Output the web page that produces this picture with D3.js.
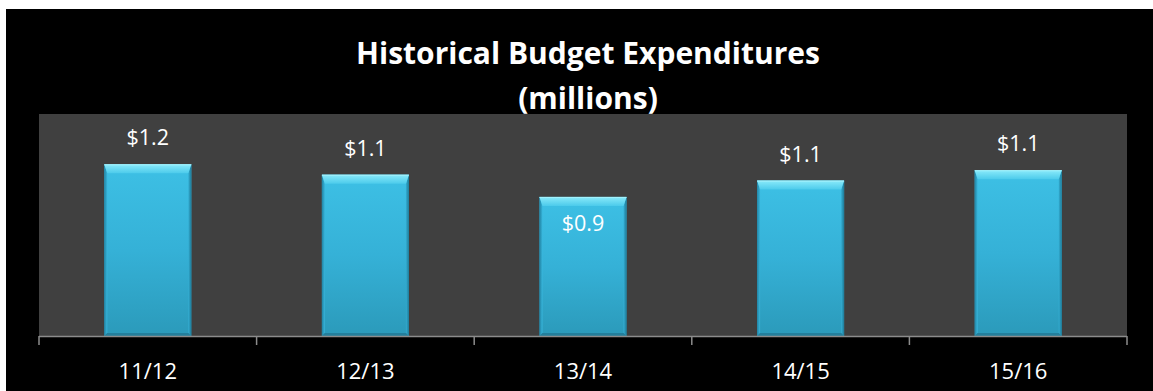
<!DOCTYPE html>
<html>
<head>
<meta charset="utf-8">
<script src="https://cdn.jsdelivr.net/npm/d3@7"></script>
<style>
  html, body { margin: 0; padding: 0; background: #ffffff; }
  svg { display: block; }
  text { font-family: "Open Sans", Lato, "Liberation Sans", sans-serif; }
</style>
</head>
<body>
<svg id="chart" width="1153" height="391"></svg>
<script>
// Fiscal years and spending (in millions of dollars)
const years = ["11/12", "12/13", "13/14", "14/15", "15/16"];
const spending = [1.16, 1.09, 0.94, 1.05, 1.12];
const titleLines = ["Historical Budget Expenditures", "(millions)"];

const W = 1153, H = 391;
const frame = { x: 6, y: 9 };
const plot = { left: 39, right: 1127, top: 114, bottom: 336 };

const svg = d3.select("#chart");
const defs = svg.append("defs");

// Gradients for the bevelled bars
function linGrad(id, x1, y1, x2, y2, stops) {
  const g = defs.append("linearGradient").attr("id", id)
    .attr("x1", x1).attr("y1", y1).attr("x2", x2).attr("y2", y2);
  stops.forEach(([o, c]) => g.append("stop").attr("offset", o).attr("stop-color", c));
}
linGrad("barBody", 0, 0, 0, 1, [[0, "#3dc0e5"], [0.5, "#35b1d7"], [1, "#2b9aba"]]);
linGrad("barTop", 0, 0, 0, 1, [[0, "#8aeafa"], [1, "#4ccbeb"]]);
linGrad("barLeft", 0, 0, 1, 0, [[0, "#2183a3"], [1, "#38b6dc"]]);
linGrad("barRight", 0, 0, 1, 0, [[0, "#34aed3"], [1, "#1d7a97"]]);

// Black chart frame
svg.append("rect")
  .attr("x", frame.x).attr("y", frame.y)
  .attr("width", W - frame.x).attr("height", H - frame.y)
  .attr("fill", "#000000");

// Plot area
svg.append("rect")
  .attr("x", plot.left).attr("y", plot.top)
  .attr("width", plot.right - plot.left).attr("height", plot.bottom - plot.top)
  .attr("fill", "#404040");

const x = d3.scaleBand()
  .domain(years)
  .range([plot.left, plot.right])
  .paddingInner(0.6)
  .paddingOuter(0.3);

const y = d3.scaleLinear()
  .domain([0, 1.5])
  .range([plot.bottom, plot.top]);

const fmt = d3.format("$.1f");
const data = years.map((yr, i) => ({ yr, v: spending[i] }));

// Bars with a bevelled look
const bar = svg.append("g").selectAll("g")
  .data(data)
  .join("g");

const bev = 9, side = 3;

bar.append("rect")
  .attr("x", d => x(d.yr))
  .attr("y", d => y(d.v))
  .attr("width", x.bandwidth())
  .attr("height", d => y(0) - y(d.v))
  .attr("fill", "url(#barBody)");

bar.append("polygon")
  .attr("points", d => {
    const x0 = x(d.yr), y0 = y(d.v), y1 = y(0);
    return [[x0, y0], [x0 + side, y0 + bev], [x0 + side, y1 - side], [x0, y1]].join(" ");
  })
  .attr("fill", "url(#barLeft)");

bar.append("polygon")
  .attr("points", d => {
    const x1 = x(d.yr) + x.bandwidth(), y0 = y(d.v), y1 = y(0);
    return [[x1, y0], [x1 - side, y0 + bev], [x1 - side, y1 - side], [x1, y1]].join(" ");
  })
  .attr("fill", "url(#barRight)");

bar.append("polygon")
  .attr("points", d => {
    const x0 = x(d.yr), x1 = x0 + x.bandwidth(), y1 = y(0);
    return [[x0, y1], [x0 + side, y1 - side], [x1 - side, y1 - side], [x1, y1]].join(" ");
  })
  .attr("fill", "#237f9c");

bar.append("polygon")
  .attr("points", d => {
    const x0 = x(d.yr), x1 = x0 + x.bandwidth(), y0 = y(d.v);
    return [[x0, y0], [x1, y0], [x1 - side, y0 + bev], [x0 + side, y0 + bev]].join(" ");
  })
  .attr("fill", "url(#barTop)");

bar.append("line")
  .attr("x1", d => x(d.yr)).attr("x2", d => x(d.yr) + x.bandwidth())
  .attr("y1", d => y(d.v) + 0.5).attr("y2", d => y(d.v) + 0.5)
  .attr("stroke", "#a6f2fc").attr("stroke-width", 1);

// Value labels: above the bar, or inside when the bar is the shortest
const minV = d3.min(spending);
bar.append("text")
  .attr("x", d => x(d.yr) + x.bandwidth() / 2)
  .attr("y", d => d.v === minV ? y(d.v) + 34 : y(d.v) - 19)
  .attr("text-anchor", "middle")
  .attr("fill", "#ffffff")
  .attr("font-size", 21.5)
  .text(d => fmt(d.v));

// Category axis
const axis = svg.append("g");
axis.append("line")
  .attr("x1", plot.left).attr("x2", plot.right)
  .attr("y1", plot.bottom + 0.5).attr("y2", plot.bottom + 0.5)
  .attr("stroke", "#8c8c8c").attr("stroke-width", 1.5);

// Tick marks sit on the category boundaries
const bounds = d3.range(years.length + 1).map(i => plot.left + i * x.step());
axis.selectAll("line.tick")
  .data(bounds)
  .join("line")
  .attr("class", "tick")
  .attr("x1", d => d).attr("x2", d => d)
  .attr("y1", plot.bottom).attr("y2", plot.bottom + 9)
  .attr("stroke", "#8c8c8c").attr("stroke-width", 1.5);

axis.selectAll("text")
  .data(years)
  .join("text")
  .attr("x", d => x(d) + x.bandwidth() / 2)
  .attr("y", 379)
  .attr("text-anchor", "middle")
  .attr("fill", "#ffffff")
  .attr("font-size", 22)
  .text(d => d);

// Title
svg.append("g").selectAll("text")
  .data(titleLines)
  .join("text")
  .attr("x", 588)
  .attr("y", (d, i) => 64 + i * 45)
  .attr("text-anchor", "middle")
  .attr("fill", "#ffffff")
  .attr("font-size", 30)
  .attr("font-weight", "bold")
  .text(d => d);
</script>
</body>
</html>
